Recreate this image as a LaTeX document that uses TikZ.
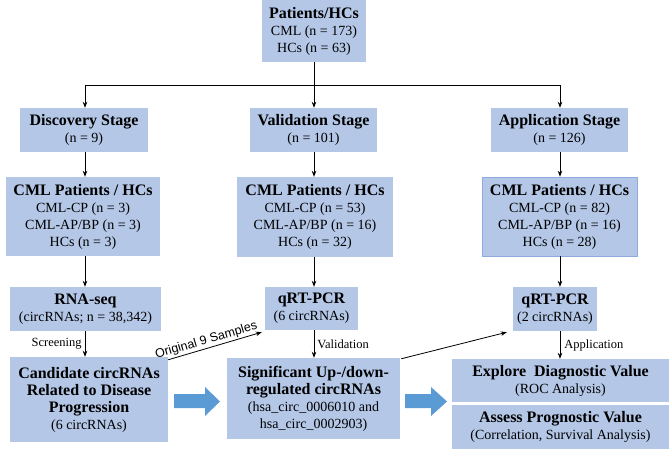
\documentclass[tikz,border=0pt]{standalone}
\usepackage{fontspec}
\setmainfont{Liberation Serif}
\setsansfont{Liberation Sans}
\usetikzlibrary{arrows.meta,calc}
\definecolor{boxfill}{HTML}{B4C7E7}
\definecolor{boxline}{HTML}{8FAADC}
\definecolor{bigarr}{HTML}{5B9BD5}
\newcommand{\ttl}{\fontsize{16}{19}\selectfont\bfseries}
\newcommand{\bdy}{\fontsize{14}{17}\selectfont}
\begin{document}
\begin{tikzpicture}[x=1pt,y=-1pt,
  box/.style={fill=boxfill, draw=none, inner sep=0pt, align=center, font=\bdy},
  arr/.style={-{Stealth[length=6pt,width=4.5pt]}, line width=0.8pt},
  ln/.style={line width=0.8pt},
  elab/.style={font=\fontsize{12.5}{14}\selectfont, inner sep=1pt}]
\useasboundingbox (0,0) rectangle (669,449);
% column coordinates
\coordinate (c1) at (85,0);
\coordinate (c2) at (314,0);
\coordinate (c3) at (560,0);
\coordinate (hl) at (314,85);
% boxes
\node[box, minimum width=104, minimum height=62] (top) at (314,31)
  {{\ttl Patients/HCs}\\CML (n = 173)\\HCs (n = 63)};
\node[box, minimum width=128, minimum height=44] (disc) at (84,130)
  {{\ttl Discovery Stage}\\(n = 9)};
\node[box, minimum width=127, minimum height=44] (val) at (313.5,130)
  {{\ttl Validation Stage}\\(n = 101)};
\node[box, minimum width=137, minimum height=44] (app) at (559.5,130)
  {{\ttl Application Stage}\\(n = 126)};
\node[box, minimum width=154, minimum height=79] (cml1) at (83,216.5)
  {{\ttl CML Patients / HCs}\\CML-CP (n = 3)\\CML-AP/BP (n = 3)\\HCs (n = 3)};
\node[box, minimum width=156, minimum height=80] (cml2) at (315,217)
  {{\ttl CML Patients / HCs}\\CML-CP (n = 53)\\CML-AP/BP (n = 16)\\HCs (n = 32)};
\node[box, draw=boxline, line width=0.6pt, minimum width=155, minimum height=79] (cml3) at (559.5,216.5)
  {{\ttl CML Patients / HCs}\\CML-CP (n = 82)\\CML-AP/BP (n = 16)\\HCs (n = 28)};
\node[box, minimum width=151, minimum height=44] (rna) at (85.5,309)
  {{\ttl RNA-seq}\\(circRNAs; n = 38,342)};
\node[box, minimum width=93, minimum height=43] (qrt1) at (311.5,308.5)
  {{\ttl qRT-PCR}\\(6 circRNAs)};
\node[box, minimum width=84, minimum height=44] (qrt2) at (555,309)
  {{\ttl qRT-PCR}\\(2 circRNAs)};
\node[box, minimum width=158, minimum height=85] (cand) at (89,399.5)
  {{\ttl Candidate circRNAs}\\{\ttl Related to Disease}\\{\ttl Progression}\\(6 circRNAs)};
\node[box, minimum width=173, minimum height=81] (sig) at (313.5,398.5)
  {{\ttl Significant Up-/down-}\\{\ttl regulated circRNAs}\\(hsa\_circ\_0006010 and\\hsa\_circ\_0002903)};
\node[box, minimum width=217, minimum height=43] (expl) at (560.5,380.5)
  {{\ttl Explore\ \ Diagnostic Value}\\(ROC Analysis)};
\node[box, minimum width=217, minimum height=44] (assess) at (560.5,427)
  {{\ttl Assess Prognostic Value}\\(Correlation, Survival Analysis)};
% top distribution
\draw[arr] (c2 |- top.south) -- (c2 |- val.north);
\draw[ln] (c1 |- hl) -- (c3 |- hl);
\draw[arr] (c1 |- hl) -- (c1 |- disc.north);
\draw[arr] (c3 |- hl) -- (c3 |- app.north);
% columns
\draw[arr] (c1 |- disc.south) -- (c1 |- cml1.north);
\draw[arr] (c2 |- val.south) -- (c2 |- cml2.north);
\draw[arr] (c3 |- app.south) -- (c3 |- cml3.north);
\draw[arr] (c1 |- cml1.south) -- (c1 |- rna.north);
\draw[arr] (c2 |- cml2.south) -- (c2 |- qrt1.north);
\draw[arr] (c3 |- cml3.south) -- (c3 |- qrt2.north);
\draw[arr] (c1 |- rna.south) -- node[elab, anchor=east, xshift=-2pt]{Screening} (c1 |- cand.north);
\draw[arr] (c2 |- qrt1.south) -- node[elab, anchor=west, xshift=2pt]{Validation} (c2 |- sig.north);
\draw[arr] (c3 |- qrt2.south) -- node[elab, anchor=west, xshift=3pt]{Application} (c3 |- expl.north);
% diagonal arrows
\draw[arr] ($(cand.north east)+(0,3)$) -- node[pos=0.43, sloped, above, inner sep=1.5pt, font=\sffamily\fontsize{12.5}{14}\selectfont]{Original 9 Samples} ($(qrt1.south west)+(-3,2)$);
\draw[arr] ($(sig.north east)+(1,1)$) -- ($(qrt2.south west)+(-6,1)$);
% big block arrows
\fill[bigarr] (174,394) -- (205,394) -- (205,387) -- (220,401.5) -- (205,416) -- (205,408) -- (174,408) -- cycle;
\fill[bigarr] (405,394) -- (431,394) -- (431,387) -- (447,401.5) -- (431,416) -- (431,408) -- (405,408) -- cycle;
\end{tikzpicture}
\end{document}
